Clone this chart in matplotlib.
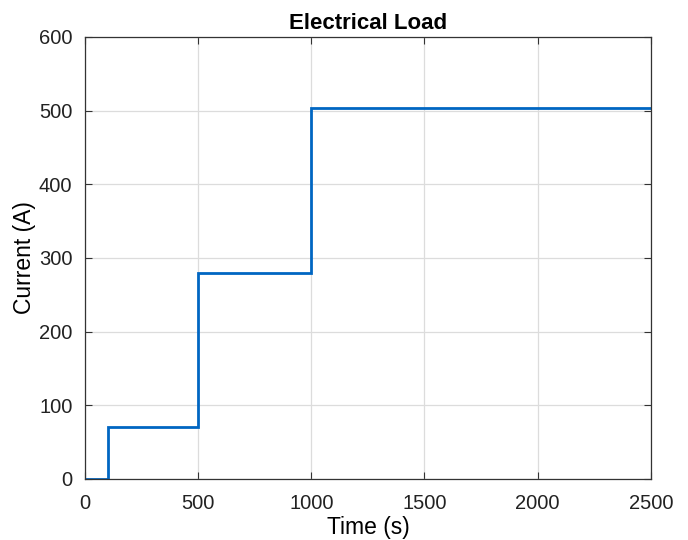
import matplotlib
matplotlib.use("Agg")
import matplotlib.pyplot as plt

plt.rcParams['font.family'] = ['Liberation Sans', 'DejaVu Sans']

# Step load profile: current level switches at these times
time_s = [0, 100, 100, 500, 500, 1000, 1000, 2500]
current_a = [0, 0, 70, 70, 280, 280, 504, 504]

xticks = [0, 500, 1000, 1500, 2000, 2500]
yticks = [0, 100, 200, 300, 400, 500, 600]

fig = plt.figure(figsize=(6.88, 5.4), dpi=100)
ax = fig.add_axes([0.1235, 0.113, 0.8225, 0.8185])

ax.plot(time_s, current_a, color='#0066c2', linewidth=2.0, solid_joinstyle='miter')

ax.set_xlim(0, 2500)
ax.set_ylim(0, 600)
ax.set_xticks(xticks)
ax.set_yticks(yticks)
ax.grid(True, color='#dcdcdc', linewidth=0.9)
ax.set_axisbelow(True)

for s in ax.spines.values():
    s.set_color('#333333')
    s.set_linewidth(0.9)
ax.tick_params(direction='in', length=5, width=0.8, color='#333333',
               labelsize=14.5, labelcolor='#222222', top=True, right=True,
               labeltop=False, labelright=False)
ax.tick_params(axis='x', pad=11)
ax.tick_params(axis='y', pad=9)

ax.set_title('Electrical Load', fontsize=16, fontweight='bold', pad=6)
ax.set_xlabel('Time (s)', fontsize=16.5, labelpad=2)
ax.set_ylabel('Current (A)', fontsize=16.5, labelpad=2)

fig.savefig('out.png', dpi=100)
